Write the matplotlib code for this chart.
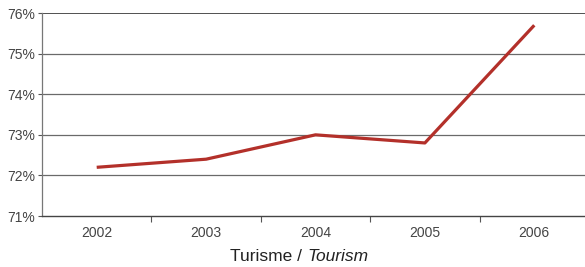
import numpy as np
from matplotlib import pyplot as plt

years = ["2002", "2003", "2004", "2005", "2006"]
values = [72.2, 72.4, 73.0, 72.8, 75.7]
yticks = [71, 72, 73, 74, 75, 76]

plt.rcParams['font.family'] = ['Liberation Sans', 'DejaVu Sans']

fig = plt.figure(figsize=(5.85, 2.67), dpi=100)
ax = fig.add_axes([0.0718, 0.191, 0.935, 0.760])

x = np.arange(len(years))
ax.plot(x, values, color="#b3302a", linewidth=2.3, solid_capstyle="butt", zorder=3)

ax.set_xlim(-0.5, len(years) - 0.5)
ax.set_ylim(71, 76)
ax.set_yticks(yticks)
ax.set_yticklabels([f"{v}%" for v in yticks])
for v in yticks[1:-1]:
    ax.axhline(v, color="#6a6a6a", linewidth=0.9, zorder=1)
ax.axhline(yticks[-1], color="#222222", linewidth=1.1, zorder=1)

ax.set_xticks(np.arange(0.5, len(years) - 0.5, 1))
ax.set_xticklabels([])
ax.set_xticks(x, minor=True)
ax.set_xticklabels(years, minor=True)
ax.tick_params(axis="x", which="major", length=4, width=0.8, color="#555555", direction="out")
ax.tick_params(axis="x", which="minor", length=0, pad=7, labelsize=10, labelcolor="#444444")
ax.tick_params(axis="y", length=3, width=0.8, color="#555555", labelsize=10,
               labelcolor="#444444", pad=2)

for s in ["top", "right"]:
    ax.spines[s].set_visible(False)
ax.spines["left"].set_color("#777777")
ax.spines["bottom"].set_color("#444444")
ax.spines["left"].set_linewidth(0.9)
ax.spines["bottom"].set_linewidth(1.0)

fig.text(0.525, 0.04, "Turisme / ", ha="right", va="center", fontsize=12.5, color="#222222")
fig.text(0.525, 0.04, "Tourism", ha="left", va="center", fontsize=12.5, color="#222222",
         style="italic")

fig.savefig("out.png", dpi=100)
